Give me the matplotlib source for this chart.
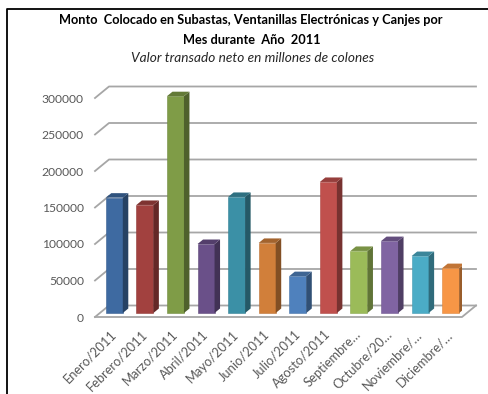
import matplotlib.pyplot as plt
from matplotlib.patches import Polygon
from matplotlib.lines import Line2D
import numpy as np

plt.rcParams['font.family'] = ['Lato', 'DejaVu Sans']

# Datos: monto colocado por mes (millones de colones)
meses = ["Enero/2011", "Febrero/2011", "Marzo/2011", "Abril/2011", "Mayo/2011",
         "Junio/2011", "Julio/2011", "Agosto/2011", "Septiembre…", "Octubre/20…",
         "Noviembre/…", "Diciembre/…"]
montos = [158000, 148000, 297000, 94500, 159000, 96000, 50500, 179500,
          85000, 98500, 78000, 61500]
colores = ["#3E6AA1", "#A2413F", "#7F9C47", "#6A5089", "#3B90A6", "#D17F3A",
           "#4F81BD", "#C0504D", "#9BBB59", "#8064A2", "#4BACC6", "#F79646"]
ticks_y = [0, 50000, 100000, 150000, 200000, 250000, 300000]

W, H = 489, 394
fig = plt.figure(figsize=(W / 100, H / 100), dpi=100)
fig.patch.set_facecolor('white')

# area del grafico en pixeles
x0, x1, yb, yt = 95, 462, 317, 80
ax = fig.add_axes([x0 / W, (H - yb) / H, (x1 - x0) / W, (yb - yt) / H])
ax.set_xlim(-0.5, 11.5)
px_unit_y = 36.5 / 50000
ax.set_ylim(0, (yb - yt) / px_unit_y)
px_unit_x = (x1 - x0) / 12.0

def px2dx(p):
    return p / px_unit_x

def px2dy(p):
    return p / px_unit_y

# pared del fondo y piso (efecto 3D)
bdx, bdy = px2dx(14), px2dy(11.5)
grid_c = "#A6A6A6"
for v in ticks_y:
    ax.plot([-0.5, -0.5 + bdx, 11.5 + bdx], [v, v + bdy, v + bdy],
            color=grid_c, lw=1.3, zorder=1, clip_on=False)
ax.plot([-0.5, 11.5, 11.5 + bdx], [0, 0, bdy], color=grid_c, lw=1.3,
        zorder=1, clip_on=False)

# barras con caras lateral y superior
x = np.arange(len(meses))
bw = px2dx(17)
sx, sy = px2dx(4), px2dy(4)
dx, dy = px2dx(5.5), px2dy(4.5)


def shade(c, f):
    r, g, b = [int(c[i:i + 2], 16) / 255 for i in (1, 3, 5)]
    return (r * f, g * f, b * f)


for xi, v, c in zip(x, montos, colores):
    left = xi + sx - bw / 2
    right = left + bw
    bot = sy
    top = sy + v
    ax.bar(xi + sx, v, bw, bottom=sy, color=c, zorder=3,
           edgecolor=shade(c, 0.9), linewidth=0.4)
    side = Polygon([(right, bot), (right + dx, bot + dy), (right + dx, top + dy),
                    (right, top)], closed=True, facecolor=shade(c, 0.62),
                   edgecolor='none', zorder=3)
    cap = Polygon([(left, top), (right, top), (right + dx, top + dy),
                   (left + dx, top + dy)], closed=True, facecolor=shade(c, 0.78),
                  edgecolor='none', zorder=3)
    ax.add_patch(side)
    ax.add_patch(cap)

for s in ax.spines.values():
    s.set_visible(False)
ax.set_yticks(ticks_y)
ax.set_yticklabels([str(t) for t in ticks_y])
ax.tick_params(axis='y', length=0, pad=8, labelsize=8.7, labelcolor="#595959")
ax.set_xticks(x)
ax.set_xticklabels(meses)
ax.tick_params(axis='x', length=0, pad=8, labelsize=9.3, labelcolor="#595959")
plt.setp(ax.get_xticklabels(), rotation=45, ha='right', rotation_mode='anchor')

# titulos
fig.text(251 / W, 1 - 20 / H,
         "Monto  Colocado en Subastas, Ventanillas Electrónicas y Canjes por",
         ha='center', va='center', fontsize=9.2, fontweight='bold', color='black')
fig.text(252 / W, 1 - 40 / H, "Mes durante  Año  2011", ha='center', va='center',
         fontsize=9.2, fontweight='bold', color='black')
fig.text(253 / W, 1 - 58 / H, "Valor transado neto en millones de colones",
         ha='center', va='center', fontsize=9.8, style='italic', color='#262626')

# marco
fig.add_artist(Line2D([7 / W, 7 / W, 1], [0, 1 - 9 / H, 1 - 9 / H],
                      color='black', lw=1.3))

fig.savefig("out.png", dpi=100)
